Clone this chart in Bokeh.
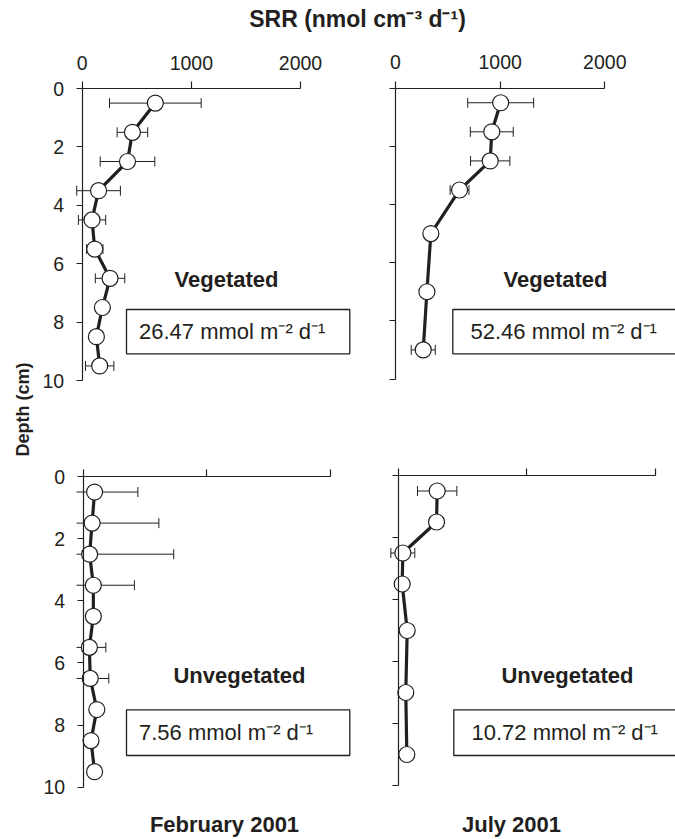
import numpy as np
from bokeh.plotting import figure
from bokeh.models import Range1d, LinearAxis, FixedTicker, Label, BoxAnnotation
from bokeh.embed import file_html
from bokeh.resources import INLINE

# ---------------- data ----------------
depth_feb_veg = [0.5, 1.5, 2.5, 3.5, 4.5, 5.5, 6.5, 7.5, 8.5, 9.5]
srr_feb_veg = [670, 460, 415, 150, 90, 115, 255, 185, 130, 160]
err_feb_veg = [420, 140, 250, 200, 125, 75, 135, 30, 30, 130]

depth_jul_veg = [0.5, 1.5, 2.5, 3.5, 5, 7, 9]
srr_jul_veg = [1005, 920, 905, 612, 338, 300, 265]
err_jul_veg = [315, 205, 188, 90, 25, 25, 115]

depth_feb_unveg = [0.5, 1.5, 2.5, 3.5, 4.5, 5.5, 6.5, 7.5, 8.5, 9.5]
srr_feb_unveg = [92, 72, 52, 82, 82, 50, 57, 110, 63, 92]
err_feb_unveg = [350, 540, 680, 332, 20, 133, 150, 20, 20, 20]

depth_jul_unveg = [0.5, 1.5, 2.5, 3.5, 5, 7, 9]
srr_jul_unveg = [303, 298, 36, 31, 70, 59, 67]
err_jul_unveg = [153, 55, 93, 20, 20, 20, 20]

site_labels = ["Vegetated", "Vegetated", "Unvegetated", "Unvegetated"]
integrated_rates = ["26.47", "52.46", "7.56", "10.72"]
month_labels = ["February 2001", "July 2001"]
x_ticks = [0, 1000, 2000]
depth_ticks = [0, 2, 4, 6, 8, 10]
x_title = "SRR (nmol cm\u207b\u00b3 d\u207b\u00b9)"
y_title = "Depth (cm)"
unit_text = " mmol m\u207b\u00b2 d\u207b\u00b9"

# ---------------- layout / style ----------------
INK = "#231f20"
FONT = "Liberation Sans"
W, H = 675, 839
LEFT, TOP = 0, 0            # page offset of the canvas (observed)
RIGHT, BOTTOM = LEFT + W, TOP + H

p = figure(width=W, height=H, output_backend="svg", toolbar_location=None,
           x_axis_type=None, y_axis_type=None,
           x_range=Range1d(LEFT, RIGHT), y_range=Range1d(BOTTOM, TOP),
           min_border=0, title=None)
p.outline_line_color = None
p.background_fill_color = "white"
p.border_fill_color = "white"


def span_range(a0, a1, v0, v1, lo, hi, flip=False):
    s = (v1 - v0) / (a1 - a0)
    vlo = v0 + (lo - a0) * s
    vhi = v0 + (hi - a0) * s
    return Range1d(vhi, vlo) if flip else Range1d(vlo, vhi)


# panel geometry in page pixels: x=0 / x=2000 positions, depth 0 / depth 10 positions
panels = [
    dict(name="fv", depth=depth_feb_veg, srr=srr_feb_veg, err=err_feb_veg,
         px=(81.7, 300.0), py=(88.0, 380.0), clip=76.0, xlab=True, ylab=True,
         site=(226, 279), box=(126, 349.3, 309, 353.3), tx=(138.5, 331)),
    dict(name="jv", depth=depth_jul_veg, srr=srr_jul_veg, err=err_jul_veg,
         px=(395.0, 604.3), py=(87.7, 378.5), clip=388.0, xlab=True, ylab=False,
         site=(555, 279), box=(452.3, 700, 309, 353.3), tx=(470, 331)),
    dict(name="fu", depth=depth_feb_unveg, srr=srr_feb_unveg, err=err_feb_unveg,
         px=(82.7, 330.0), py=(476.0, 786.7), clip=76.0, xlab=False, ylab=True,
         site=(239, 675), box=(126, 349.3, 709.3, 755), tx=(138.5, 732)),
    dict(name="ju", depth=depth_jul_unveg, srr=srr_jul_unveg, err=err_jul_unveg,
         px=(397.7, 655.0), py=(475.0, 785.0), clip=389.5, xlab=False, ylab=False,
         site=(567, 675), box=(453.3, 700, 709.3, 755), tx=(471, 732)),
]

p.extra_x_ranges = {}
p.extra_y_ranges = {}
for g in panels:
    p.extra_x_ranges[g["name"] + "_x"] = span_range(g["px"][0], g["px"][1], 0, 2000, LEFT, RIGHT)
    p.extra_y_ranges[g["name"] + "_y"] = span_range(g["py"][0], g["py"][1], 0, 10, TOP, BOTTOM, flip=True)

for i, g in enumerate(panels):
    xn, yn = g["name"] + "_x", g["name"] + "_y"
    depth = np.array(g["depth"], dtype=float)
    srr = np.array(g["srr"], dtype=float)
    err = np.array(g["err"], dtype=float)
    s = 2000.0 / (g["px"][1] - g["px"][0])
    xclip = (g["clip"] - g["px"][0]) * s
    lo = srr - err
    hi = srr + err
    lo_vis = np.maximum(lo, xclip)
    kw = dict(x_range_name=xn, y_range_name=yn)

    # error bars
    p.segment(x0=lo_vis, y0=depth, x1=hi, y1=depth, line_color=INK, line_width=1, **kw)
    keep = lo >= xclip
    cap_x = np.concatenate([lo[keep], hi])
    cap_y = np.concatenate([depth[keep], depth])
    p.scatter(x=cap_x, y=cap_y, marker="dash", angle=np.pi / 2, size=10,
              line_color=INK, line_width=1, **kw)
    # profile line + markers
    p.line(x=srr, y=depth, line_color=INK, line_width=3.2, **kw)
    p.scatter(x=srr, y=depth, marker="circle", size=16, fill_color="white",
              line_color=INK, line_width=1.2, **kw)

    # axes
    xa = LinearAxis(x_range_name=xn, y_range_name=yn, fixed_location=0,
                    bounds=(0, 2000), ticker=FixedTicker(ticks=x_ticks))
    ya = LinearAxis(x_range_name=xn, y_range_name=yn, fixed_location=0,
                    bounds=(0, 10), ticker=FixedTicker(ticks=depth_ticks))
    for ax, tout in ((xa, 7), (ya, 6)):
        ax.axis_line_color = INK
        ax.axis_line_width = 1.2
        ax.major_tick_line_color = INK
        ax.major_tick_line_width = 1.2
        ax.major_tick_out = tout
        ax.major_tick_in = 0
        ax.minor_tick_out = 0
        ax.minor_tick_in = 0
        ax.major_label_text_font = FONT
        ax.major_label_text_font_size = "19.5px"
        ax.major_label_text_color = INK
        ax.major_label_standoff = 12
    if not g["xlab"]:
        xa.major_label_overrides = {t: "" for t in x_ticks}
    if not g["ylab"]:
        ya.major_label_overrides = {t: "" for t in depth_ticks}
    p.add_layout(xa, "above")
    p.add_layout(ya, "left")

    # site label, integrated-rate box
    p.add_layout(Label(x=g["site"][0], y=g["site"][1], text=site_labels[i],
                       text_font=FONT, text_font_size="22px", text_font_style="bold",
                       text_color=INK, text_align="center", text_baseline="middle"))
    bl, br, bt, bb = g["box"]
    p.add_layout(BoxAnnotation(left=bl, right=br, top=bt, bottom=bb,
                               fill_color=None, line_color=INK, line_alpha=1.0,
                               line_width=1.3))
    p.add_layout(Label(x=g["tx"][0], y=g["tx"][1], text=integrated_rates[i] + unit_text,
                       text_font=FONT, text_font_size="22px", text_color=INK,
                       text_align="left", text_baseline="middle"))

# outer titles
p.add_layout(Label(x=357, y=18.5, text=x_title, text_font=FONT, text_font_size="23px",
                   text_font_style="bold", text_color=INK, text_align="center",
                   text_baseline="middle"))
p.add_layout(Label(x=22.5, y=409, text=y_title, angle=np.pi / 2, text_font=FONT,
                   text_font_size="18px", text_font_style="bold", text_color=INK,
                   text_align="center", text_baseline="middle"))
for mx, mtext in zip((224, 511), month_labels):
    p.add_layout(Label(x=mx, y=824, text=mtext, text_font=FONT, text_font_size="22px",
                       text_font_style="bold", text_color=INK, text_align="center",
                       text_baseline="middle"))

open("out.html", "w").write(file_html(p, INLINE))
